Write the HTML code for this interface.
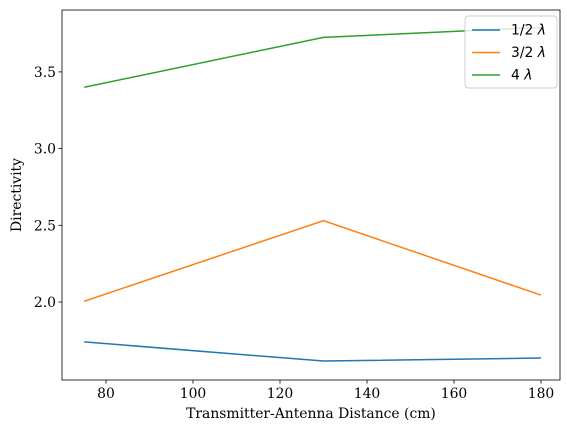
<!DOCTYPE html>
<html><head><meta charset="utf-8"><style>body{margin:0;background:#fff}svg{display:block}text{font-family:"DejaVu Serif","Liberation Serif",serif;font-size:13.9px;fill:#000}</style></head>
<body>
<svg width="567" height="432">
<g id="plot"></g>
</svg>
<script>
const xValues=[75,130,180];
const seriesHalf=[1.74,1.615,1.635];
const seriesThreeHalf=[2.005,2.53,2.045];
const seriesFour=[3.40,3.725,3.79];
const xTicks=[80,100,120,140,160,180];
const yTicks=[2.0,2.5,3.0,3.5];
const yTickLabels=["2.0","2.5","3.0","3.5"];
const L=62,R=560,T=10,B=380;
const x=v=>106+(v-80)*4.35;
const y=v=>302-(v-2.0)*153.4;
const g=document.getElementById('plot');
const NS='http://www.w3.org/2000/svg';
function el(t,a,p){const e=document.createElementNS(NS,t);for(const k in a)e.setAttribute(k,a[k]);(p||g).appendChild(e);return e;}
const series=[[seriesHalf,'#1f77b4','series-half-lambda'],[seriesThreeHalf,'#ff7f0e','series-three-half-lambda'],[seriesFour,'#2ca02c','series-four-lambda']];
series.forEach(([d,c,n])=>{
 const p=el('polyline',{points:d.map((v,i)=>x(xValues[i])+','+y(v)).join(' '),fill:'none',stroke:c,'stroke-width':1.5});
 
 
});
const f=el('rect',{x:L,y:T,width:R-L,height:B-T,fill:'none',stroke:'#000','stroke-width':0.8});


xTicks.forEach(v=>{
 el('line',{x1:x(v),x2:x(v),y1:B,y2:B+3.5,stroke:'#000','stroke-width':0.8});
 const t=el('text',{x:x(v),y:B+18,'text-anchor':'middle'});t.textContent=v;
 
 
});
yTicks.forEach((v,i)=>{
 el('line',{x1:L-3.5,x2:L,y1:y(v),y2:y(v),stroke:'#000','stroke-width':0.8});
 const t=el('text',{x:L-6,y:y(v)+5,'text-anchor':'end'});t.textContent=yTickLabels[i];
 
 
});
const xt=el('text',{x:(L+R)/2,y:418,'text-anchor':'middle'});xt.textContent='Transmitter-Antenna Distance (cm)';


const yt=el('text',{x:0,y:0,'text-anchor':'middle',transform:'translate(21,195) rotate(-90)'});yt.textContent='Directivity';


const lg=el('g',{});


el('rect',{x:465,y:16,width:92,height:72,rx:3,fill:'#fff','fill-opacity':0.8,stroke:'#ccc'},lg);
const labels=['1/2 ','3/2 ','4 '];
series.forEach(([d,c],i)=>{
 const yy=30+i*22.5;
 el('line',{x1:472,x2:500,y1:yy,y2:yy,stroke:c,'stroke-width':1.5},lg);
 const t=el('text',{x:511,y:yy+4.5,style:'font-family:"DejaVu Sans","Liberation Sans",sans-serif;font-size:13.9px'},lg);
 t.textContent=labels[i];
 const ts=el('tspan',{'font-style':'italic'},t);ts.textContent='λ';
 
 
});
</script>
</body></html>
